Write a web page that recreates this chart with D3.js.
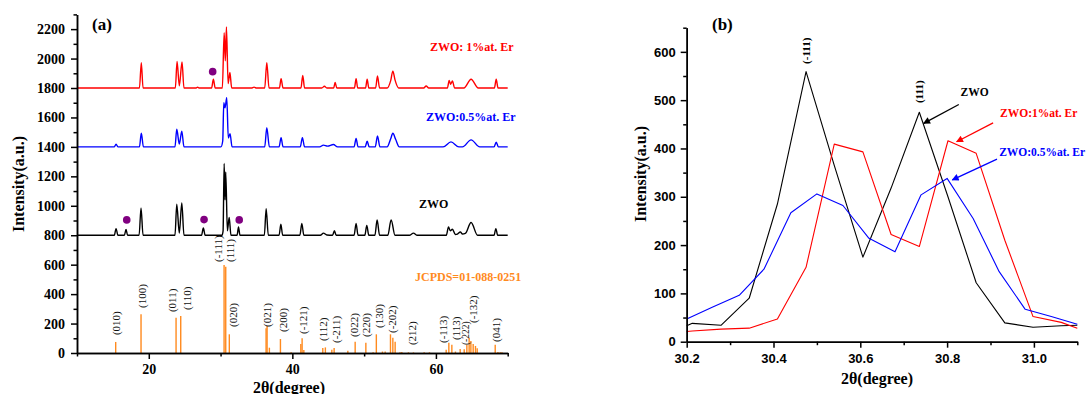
<!DOCTYPE html>
<html>
<head>
<meta charset="utf-8">
<script src="https://d3js.org/d3.v7.min.js"></script>
<style>
  body { margin: 0; background: #fff; }
  svg { display: block; }
</style>
</head>
<body>
<svg id="chart" width="1089" height="394"></svg>
<script>
// ---- panel (a): XRD patterns, [2theta, intensity] ----
const zwoEr1 = [
  [10,1800],[18.7,1800],[18.96,1972],[19.2,1800],
  [23.7,1800],[23.94,1981],[24.25,1815],[24.63,1977],[24.9,1800],
  [26.6,1800],[26.8,1806],[27.0,1800],
  [28.75,1800],[29.0,1859],[29.25,1800],
  [30.25,1800],[30.5,2176],[30.66,1985],[30.82,2214],[31.05,1830],[31.3,1905],[31.55,1800],
  [34.3,1800],[34.67,1806],[35.0,1800],
  [36.15,1800],[36.44,1972],[36.75,1800],
  [38.2,1800],[38.43,1864],[38.7,1800],
  [41.2,1800],[41.45,1886],[41.7,1800],
  [44.1,1800],[44.47,1812],[44.8,1800],
  [45.75,1800],[45.96,1837],[46.2,1800],
  [48.65,1800],[48.88,1864],[49.1,1800],
  [50.2,1800],[50.42,1859],[50.65,1800],
  [51.6,1800],[51.86,1882],[52.15,1800],
  [53.2,1800],[53.7,1850],[54.0,1915],[54.3,1855],[54.8,1800],
  [58.3,1800],[58.64,1814],[59.0,1800],
  [61.6,1800],[61.85,1852],[62.05,1825],[62.3,1848],[62.6,1800],
  [63.9,1800],[64.9,1859],[65.9,1800],
  [68.15,1800],[68.4,1859],[68.65,1800],[70,1800]
];
const zwoEr05 = [
  [10,1400],[15.2,1400],[15.44,1418],[15.7,1400],
  [18.7,1400],[18.96,1493],[19.25,1400],
  [23.65,1400],[23.9,1520],[24.25,1420],[24.6,1507],[24.9,1400],
  [30.05,1400],[30.3,1440],[30.45,1700],[30.62,1665],[30.86,1735],[31.08,1460],[31.32,1490],[31.6,1400],
  [36.15,1400],[36.44,1531],[36.8,1400],
  [38.15,1400],[38.43,1463],[38.7,1400],
  [41.1,1400],[41.4,1463],[41.7,1400],
  [43.8,1400],[44.33,1412],[44.9,1405],[45.72,1416],[46.3,1400],
  [48.6,1400],[48.88,1457],[49.15,1400],
  [50.15,1400],[50.42,1439],[50.7,1400],
  [51.55,1400],[51.86,1475],[52.2,1400],
  [53.2,1400],[53.7,1455],[54.0,1493],[54.4,1450],[54.9,1400],
  [61.0,1400],[62.1,1434],[63.2,1400],
  [63.7,1400],[64.9,1448],[66.1,1400],
  [68.1,1400],[68.4,1432],[68.7,1400],[70,1400]
];
const zwo = [
  [10,800],[15.2,800],[15.44,845],[15.7,800],
  [16.6,800],[16.83,839],[17.05,800],
  [18.65,800],[18.92,986],[19.2,800],
  [23.65,800],[23.9,1011],[24.25,815],[24.6,1020],[24.9,800],
  [27.35,800],[27.6,849],[27.85,800],
  [30.2,800],[30.35,830],[30.5,1287],[30.62,1040],[30.72,1230],[30.95,830],[31.2,920],[31.45,800],
  [32.3,800],[32.5,856],[32.7,800],
  [36.1,800],[36.35,981],[36.65,800],
  [38.15,800],[38.4,875],[38.65,800],
  [41.05,800],[41.32,880],[41.6,800],
  [43.9,800],[44.33,814],[44.8,802],
  [45.6,800],[45.86,830],[46.1,800],
  [48.6,800],[48.88,880],[49.15,800],
  [50.1,800],[50.37,867],[50.65,800],
  [51.5,800],[51.81,904],[52.15,800],
  [53.3,800],[53.76,904],[54.3,800],
  [56.3,800],[56.87,814],[57.4,800],
  [61.45,800],[61.75,856],[62.0,830],[62.3,841],[62.7,805],[63.0,808],[63.4,822],[63.7,808],
  [64.1,812],[64.9,886],[65.8,800],
  [68.1,800],[68.35,845],[68.6,800],[70,800]
];
// JCPDS 01-088-0251 reference lines
const stickPos = [15.39,18.92,23.8,24.45,30.49,30.72,31.22,36.34,36.48,36.8,38.34,39.83,41.18,41.36,41.6,
  44.24,44.6,45.5,45.82,47.73,48.75,50.24,51.25,51.7,52.55,52.93,53.67,54.0,54.32,55.0,55.25,56.17,56.87,
  58.36,59.1,61.43,61.8,62.22,62.72,63.38,63.94,64.31,64.63,64.87,65.19,65.51,65.75,68.26,68.64,68.96,69.2];
const stickInt = [75,263,240,251,598,586,127,168,183,36,95,5,61,100,20,
  34,38,22,34,15,77,70,5,127,10,10,127,104,77,5,6,5,4,
  5,5,22,70,56,10,27,25,56,104,82,61,48,32,56,6,5,5];
const hklLabels = [
  ["(010)",15.44,122],["(100)",19.02,306],["(011)",23.2,278],["(110)",25.29,292],
  ["(-111)",29.69,618],["(111)",31.32,618],["(020)",31.78,177],["(021)",36.44,177],
  ["(200)",38.67,143],["(-121)",41.54,129],["(112)",44.33,82],["(-211)",46.06,68],
  ["(022)",48.6,109],["(220)",50.28,109],["(130)",52.09,170],["(-202)",53.86,136],
  ["(212)",56.73,54],["(-113)",61.05,68],["(113)",62.78,88],["(-222)",64.22,54],
  ["(-132)",65.23,204],["(041)",68.35,75]
];
const impurityDots = [[28.9,1911],[16.93,904],[27.7,906],[32.6,904]];
const xTicksA = [20,40,60], xMinorA = [10,30,50,70];
const yTicksA = d3.range(0,2201,200), yMinorA = d3.range(100,2301,200);

// ---- panel (b): zoom on (-111)/(111) ----
const zwoB = [[30.2,33],[30.213,38],[30.279,34],[30.344,90],[30.409,285],[30.475,559],[30.54,365],
  [30.606,175],[30.671,318],[30.736,475],[30.802,300],[30.867,122],[30.933,39],[30.998,30],[31.063,33],[31.1,34]];
const er1B = [[30.2,21],[30.213,22],[30.279,26],[30.344,28],[30.409,47],[30.475,154],[30.54,409],
  [30.606,393],[30.671,222],[30.736,197],[30.802,416],[30.867,390],[30.933,210],[30.998,52],[31.063,40],[31.1,28]];
const er05B = [[30.2,47],[30.26,72],[30.321,96],[30.378,150],[30.44,267],[30.5,306],[30.56,282],
  [30.62,214],[30.68,186],[30.74,304],[30.8,338],[30.86,255],[30.92,145],[30.98,67],[31.04,52],[31.1,36]];
const xTicksB = [30.2,30.4,30.6,30.8,31.0], xMinorB = [30.3,30.5,30.7,30.9,31.1];
const yTicksB = d3.range(0,601,100), yMinorB = d3.range(50,651,100);

const SERIF = "'Liberation Serif','Times New Roman',serif";
const SANS = "'Liberation Sans',Arial,sans-serif";
const ORANGE = "#ff8a1e";

const svg = d3.select("#chart");

// arrow heads
const defs = svg.append("defs");
[["k","#000"],["r","#ff0000"],["b","#0000ff"]].forEach(([id,c]) => {
  defs.append("marker").attr("id","arr-"+id).attr("viewBox","0 0 10 10")
    .attr("refX",9).attr("refY",5).attr("markerWidth",9).attr("markerHeight",7)
    .attr("markerUnits","userSpaceOnUse").attr("orient","auto")
    .append("path").attr("d","M0,0L10,5L0,10z").attr("fill",c);
});

function styleAxis(g, font, size) {
  g.select(".domain").attr("stroke","#000").attr("stroke-width",1.5);
  g.selectAll(".tick line").attr("stroke","#000").attr("stroke-width",1.5);
  g.selectAll(".tick text").attr("font-family",font).attr("font-weight","bold")
    .attr("font-size",size).attr("fill","#000");
}

// ================= panel (a) =================
const xa = d3.scaleLinear().domain([10,70]).range([77,507.7]);
const ya = d3.scaleLinear().domain([0,2300]).range([353,14.4]);
const ga = svg.append("g");

const lineA = d3.line().x(d => xa(d[0])).y(d => ya(d[1])).curve(d3.curveMonotoneX);
[[zwoEr1,"#ff0000"],[zwoEr05,"#0000ff"],[zwo,"#000"]].forEach(([data,c]) => {
  ga.append("path").datum(data).attr("d",lineA).attr("fill","none")
    .attr("stroke",c).attr("stroke-width",1.4).attr("stroke-linejoin","round");
});

ga.append("g").selectAll("line").data(stickPos).join("line")
  .attr("x1",d => xa(d)).attr("x2",d => xa(d))
  .attr("y1",ya(0)).attr("y2",(d,i) => ya(stickInt[i]))
  .attr("stroke",ORANGE).attr("stroke-width",1.4);

ga.append("g").selectAll("text").data(hklLabels).join("text")
  .attr("transform",d => `translate(${xa(d[1])},${ya(d[2])}) rotate(-90)`)
  .attr("dominant-baseline","central")
  .attr("font-family",SERIF).attr("font-size",d => d[0] === "(-222)" ? 9.5 : 11)
  .attr("fill","#111").text(d => d[0]);

ga.append("g").selectAll("circle").data(impurityDots).join("circle")
  .attr("cx",d => xa(d[0])).attr("cy",d => ya(d[1])).attr("r",3.8).attr("fill","#800080");

const axA1 = ga.append("g").attr("transform",`translate(0,${ya(0)})`)
  .call(d3.axisBottom(xa).tickValues(xTicksA).tickSize(6).tickSizeOuter(0).tickPadding(5).tickFormat(d3.format("d")));
styleAxis(axA1, SERIF, 14);
const axA1m = ga.append("g").attr("transform",`translate(0,${ya(0)})`)
  .call(d3.axisBottom(xa).tickValues(xMinorA).tickSize(3.5).tickSizeOuter(0).tickFormat(""));
styleAxis(axA1m, SERIF, 14);
const axA2 = ga.append("g").attr("transform",`translate(${xa(10)},0)`)
  .call(d3.axisLeft(ya).tickValues(yTicksA).tickSize(6).tickSizeOuter(0).tickPadding(6).tickFormat(d3.format("d")));
styleAxis(axA2, SERIF, 14);
const axA2m = ga.append("g").attr("transform",`translate(${xa(10)},0)`)
  .call(d3.axisLeft(ya).tickValues(yMinorA).tickSize(3.5).tickSizeOuter(0).tickFormat(""));
styleAxis(axA2m, SERIF, 14);

ga.append("text").attr("x",289).attr("y",387).attr("text-anchor","middle")
  .attr("dominant-baseline","central").attr("font-family",SERIF).attr("font-weight","bold")
  .attr("font-size",16).text("2θ(degree)");
ga.append("text").attr("transform","translate(18,184) rotate(-90)").attr("text-anchor","middle")
  .attr("dominant-baseline","central").attr("font-family",SERIF).attr("font-weight","bold")
  .attr("font-size",16).text("Intensity(a.u.)");
ga.append("text").attr("x",92).attr("y",24).attr("dominant-baseline","central")
  .attr("font-family",SERIF).attr("font-weight","bold").attr("font-size",17).text("(a)");

const legendA = [
  ["ZWO: 1%at. Er","#ff0000",430,47],
  ["ZWO:0.5%at. Er","#0000ff",426,117],
  ["ZWO","#000",419,204],
  ["JCPDS=01-088-0251",ORANGE,415,277]
];
ga.append("g").selectAll("text").data(legendA).join("text")
  .attr("x",d => d[2]).attr("y",d => d[3]).attr("dominant-baseline","central")
  .attr("font-family",SERIF).attr("font-weight","bold").attr("font-size",12)
  .attr("fill",d => d[1]).text(d => d[0]);

// ================= panel (b) =================
const xb = d3.scaleLinear().domain([30.2,31.1]).range([686.7,1077.3]);
const yb = d3.scaleLinear().domain([0,650]).range([341.7,27.7]);
const gb = svg.append("g");

const lineB = d3.line().x(d => xb(d[0])).y(d => yb(d[1]));
[[zwoB,"#000"],[er1B,"#ff0000"],[er05B,"#0000ff"]].forEach(([data,c]) => {
  gb.append("path").datum(data).attr("d",lineB).attr("fill","none")
    .attr("stroke",c).attr("stroke-width",1.1).attr("stroke-linejoin","round");
});

const axB1 = gb.append("g").attr("transform",`translate(0,${yb(0)})`)
  .call(d3.axisBottom(xb).tickValues(xTicksB).tickSize(6).tickSizeOuter(0).tickPadding(6).tickFormat(d3.format(".1f")));
styleAxis(axB1, SANS, 13);
const axB1m = gb.append("g").attr("transform",`translate(0,${yb(0)})`)
  .call(d3.axisBottom(xb).tickValues(xMinorB).tickSize(3.5).tickSizeOuter(0).tickFormat(""));
styleAxis(axB1m, SANS, 13);
const axB2 = gb.append("g").attr("transform",`translate(${xb(30.2)},0)`)
  .call(d3.axisLeft(yb).tickValues(yTicksB).tickSize(6).tickSizeOuter(0).tickPadding(5).tickFormat(d3.format("d")));
styleAxis(axB2, SANS, 13);
const axB2m = gb.append("g").attr("transform",`translate(${xb(30.2)},0)`)
  .call(d3.axisLeft(yb).tickValues(yMinorB).tickSize(3.5).tickSizeOuter(0).tickFormat(""));
styleAxis(axB2m, SANS, 13);

gb.append("text").attr("x",877).attr("y",378).attr("text-anchor","middle")
  .attr("dominant-baseline","central").attr("font-family",SERIF).attr("font-weight","bold")
  .attr("font-size",16).text("2θ(degree)");
gb.append("text").attr("transform","translate(640,174) rotate(-90)").attr("text-anchor","middle")
  .attr("dominant-baseline","central").attr("font-family",SERIF).attr("font-weight","bold")
  .attr("font-size",16).text("Intensity(a.u.)");
gb.append("text").attr("x",712).attr("y",24).attr("dominant-baseline","central")
  .attr("font-family",SERIF).attr("font-weight","bold").attr("font-size",17).text("(b)");

const peakLabelsB = [["(-111)",30.475,575],["(111)",30.736,494]];
gb.append("g").selectAll("text").data(peakLabelsB).join("text")
  .attr("transform",d => `translate(${xb(d[1])},${yb(d[2])}) rotate(-90)`)
  .attr("dominant-baseline","central").attr("font-family",SERIF).attr("font-weight","bold")
  .attr("font-size",11).text(d => d[0]);

// series notes with arrows: [text, colour, marker, text x, text y, arrow from, arrow to]
const notesB = [
  ["ZWO","#000","k",30.831,516,[30.827,491],[30.746,452]],
  ["ZWO:1%at. Er","#ff0000","r",30.922,474,[30.906,453],[30.822,414]],
  ["ZWO:0.5%at. Er","#0000ff","b",30.92,392,[30.915,378],[30.812,335]]
];
const nb = gb.append("g").selectAll("g").data(notesB).join("g");
nb.append("text").attr("x",d => xb(d[3])).attr("y",d => yb(d[4]))
  .attr("dominant-baseline","central").attr("font-family",SERIF).attr("font-weight","bold")
  .attr("font-size",11.5).attr("fill",d => d[1]).text(d => d[0]);
nb.append("line").attr("x1",d => xb(d[5][0])).attr("y1",d => yb(d[5][1]))
  .attr("x2",d => xb(d[6][0])).attr("y2",d => yb(d[6][1]))
  .attr("stroke",d => d[1]).attr("stroke-width",1.3)
  .attr("marker-end",d => `url(#arr-${d[2]})`);
</script>
</body>
</html>
